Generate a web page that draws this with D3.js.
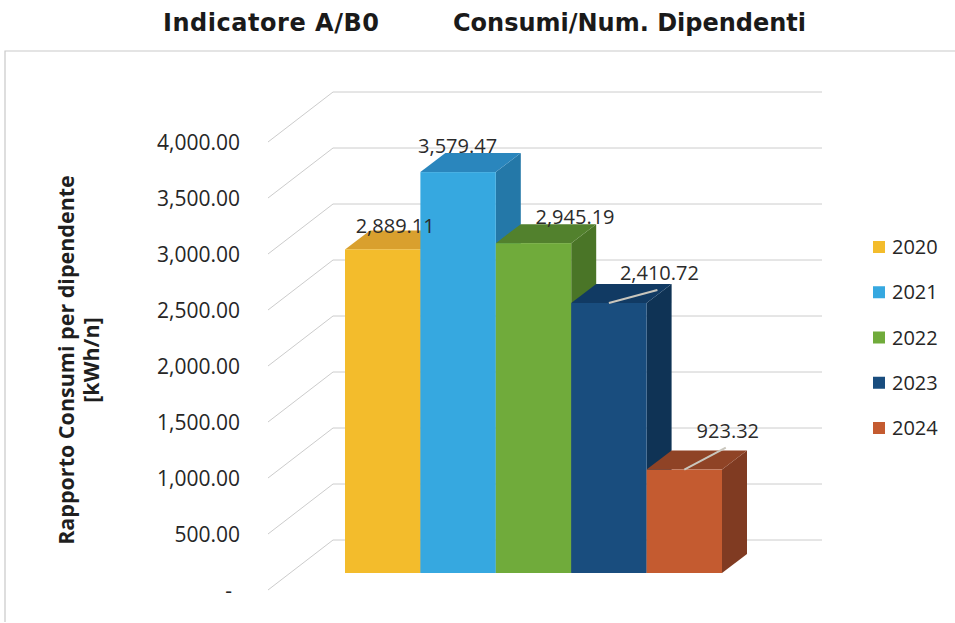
<!DOCTYPE html>
<html>
<head>
<meta charset="utf-8">
<script src="https://cdn.jsdelivr.net/npm/d3@7"></script>
<style>
  html, body { margin: 0; padding: 0; background: #fff; }
  svg { display: block; }
</style>
</head>
<body>
<svg id="chart" width="955" height="623"></svg>
<script>
// ---- data ----
const years = ["2020", "2021", "2022", "2023", "2024"];
const values = [2889.11, 3579.47, 2945.19, 2410.72, 923.32];
const tickValues = [0, 500, 1000, 1500, 2000, 2500, 3000, 3500, 4000];

// ---- styles ----
const frontColors = ["#f3bc2c", "#36a8e0", "#70ab3b", "#194d7e", "#c45b30"];
const topColors   = ["#d9a02e", "#2a86bd", "#52812d", "#113a63", "#8f4326"];
const sideColors  = ["#c98f22", "#2478a8", "#4a7527", "#0f3355", "#803b22"];
// label offsets from the bar's top centre (x, y)
const labelNudge = [[0, -4], [-13, -7], [29, -7], [38, -11], [31, -20]];
const withLeader = [false, false, false, true, true];

// ---- layout ----
const W = 955, H = 623;
const wallFrontX = 268, wallBackX = 333, gridRight = 822;
const depthDX = 25, depthDY = -19;           // bar depth offset
const numFmt = d3.format(",.2f");

const svg = d3.select("#chart");

// outer frame (top and left edges)
svg.append("path")
  .attr("d", `M5,622V51H${W}`)
  .attr("fill", "none")
  .attr("stroke", "#c9c9c9")
  .attr("stroke-width", 1.2);

// scales: front of the left wall, back wall, bar fronts
const yFront = d3.scaleLinear().domain([0, 4000]).range([590, 142]);
const yBack  = d3.scaleLinear().domain([0, 4000]).range([540, 92]);
const yBar   = d3.scaleLinear().domain([0, 4000]).range([573, 125]);
const x = d3.scaleBand().domain(years).range([345, 722]).padding(0);

// gridlines: along the left wall, then across the back wall
svg.append("g").selectAll("path")
  .data(tickValues)
  .join("path")
  .attr("d", v => `M${wallFrontX},${yFront(v)}L${wallBackX},${yBack(v)}H${gridRight}`)
  .attr("fill", "none")
  .attr("stroke", "#cccccc")
  .attr("stroke-width", 1);

// y axis tick labels
const axis = d3.axisLeft(yFront)
  .tickValues(tickValues)
  .tickSize(0)
  .tickPadding(0)
  .tickFormat(v => v === 0 ? "-" : numFmt(v));
const gAxis = svg.append("g").attr("transform", "translate(240,0)").call(axis);
gAxis.select(".domain").remove();
gAxis.selectAll("text")
  .attr("font-family", "'Open Sans', sans-serif")
  .attr("font-size", 21)
  .attr("fill", "#262626")
  .attr("dy", "0.34em")
  .attr("x", v => v === 0 ? -8 : 0);

// 3D bars, drawn left to right so each covers its neighbour's hidden side
const bars = svg.append("g");
years.forEach((yr, i) => {
  const v = values[i];
  const x0 = x(yr), x1 = x0 + x.bandwidth();
  const yt = yBar(v), yb = yBar(0);
  const g = bars.append("g");
  g.append("path")
    .attr("d", `M${x1},${yt}L${x1 + depthDX},${yt + depthDY}L${x1 + depthDX},${yb + depthDY}L${x1},${yb}Z`)
    .attr("fill", sideColors[i]);
  g.append("path")
    .attr("d", `M${x0},${yt}L${x1},${yt}L${x1 + depthDX},${yt + depthDY}L${x0 + depthDX},${yt + depthDY}Z`)
    .attr("fill", topColors[i]);
  g.append("rect")
    .attr("x", x0).attr("y", yt)
    .attr("width", x.bandwidth()).attr("height", yb - yt)
    .attr("fill", frontColors[i]);
});

// value labels (with leader lines where moved away from the bar)
const labels = svg.append("g");
years.forEach((yr, i) => {
  const v = values[i];
  const cx = x(yr) + x.bandwidth() / 2;
  const lx = cx + depthDX / 2 + labelNudge[i][0];
  const ly = yBar(v) + depthDY + labelNudge[i][1];
  if (withLeader[i]) {
    labels.append("line")
      .attr("x1", cx).attr("y1", yBar(v))
      .attr("x2", lx - 2).attr("y2", ly + 17)
      .attr("stroke", "#c9c6bd")
      .attr("stroke-width", 2);
  }
  labels.append("text")
    .attr("x", lx).attr("y", ly)
    .attr("dy", "0.35em")
    .attr("text-anchor", "middle")
    .attr("font-family", "'Open Sans', sans-serif")
    .attr("font-size", 20)
    .attr("fill", "#2b2b2b")
    .text(numFmt(v));
});

// title
const titleFont = "'DejaVu Sans', Verdana, sans-serif";
svg.append("text")
  .attr("x", 163).attr("y", 31)
  .attr("font-family", titleFont).attr("font-weight", "bold")
  .attr("font-size", 24).attr("fill", "#1a1a1a")
  .attr("textLength", 216).attr("lengthAdjust", "spacing")
  .text("Indicatore A/B0");
svg.append("text")
  .attr("x", 453).attr("y", 31)
  .attr("font-family", titleFont).attr("font-weight", "bold")
  .attr("font-size", 24).attr("fill", "#1a1a1a")
  .attr("textLength", 353).attr("lengthAdjust", "spacing")
  .text("Consumi/Num. Dipendenti");

// y axis title (two lines, rotated)
const yTitle = svg.append("text")
  .attr("transform", "translate(66,360) rotate(-90)")
  .attr("text-anchor", "middle")
  .attr("font-family", "'Open Sans', sans-serif")
  .attr("font-weight", "bold")
  .attr("font-size", 21.5)
  .attr("fill", "#1f1f1f");
yTitle.append("tspan").attr("x", 0).attr("dy", "0.35em").text("Rapporto Consumi per dipendente");
yTitle.append("tspan").attr("x", 0).attr("dy", 25).text("[kWh/n]");

// legend
const legendY = d3.scalePoint().domain(years).range([247, 428]);
const legend = svg.append("g").selectAll("g")
  .data(years)
  .join("g")
  .attr("transform", d => `translate(873,${legendY(d)})`);
legend.append("rect")
  .attr("x", 0).attr("y", -6)
  .attr("width", 12).attr("height", 12)
  .attr("fill", (d, i) => frontColors[i]);
legend.append("text")
  .attr("x", 19).attr("dy", "0.35em")
  .attr("font-family", "'Open Sans', sans-serif")
  .attr("font-size", 20)
  .attr("fill", "#262626")
  .text(d => d);
</script>
</body>
</html>
